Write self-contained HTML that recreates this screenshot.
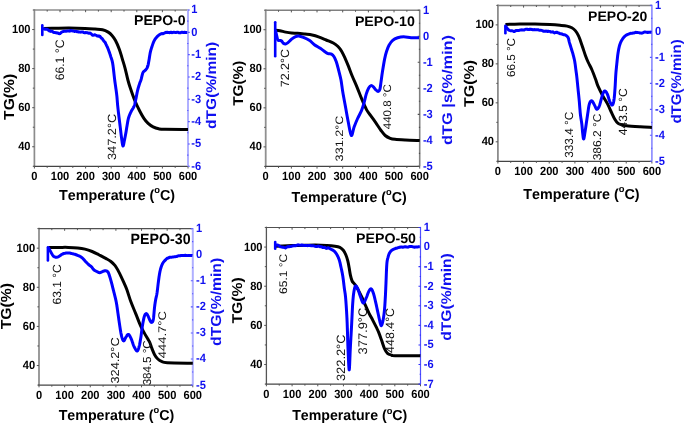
<!DOCTYPE html>
<html><head><meta charset="utf-8"><style>
html,body{margin:0;padding:0;background:#fff;}
svg{display:block;}
text{font-family:"Liberation Sans",sans-serif;font-kerning:none;text-rendering:geometricPrecision;}
.tl{font-size:11.9px;font-weight:bold;fill:#000;}
.rb{fill:#1010f0;}
.ti{font-weight:bold;fill:#000;}
.al{font-size:14.5px;font-weight:bold;fill:#000;}
.rb2{fill:#1010f0;}
.an{fill:#111;}
</style></head><body>
<svg width="685" height="424" viewBox="0 0 685 424" style="will-change:transform">
<rect width="685" height="424" fill="#fff"/>
<g><path d="M34.4,9.2V166.3" stroke="#8c8c8c" stroke-width="1.7" fill="none"/>
<path d="M34.4,10H188" stroke="#8c8c8c" stroke-width="1.6" fill="none"/>
<path d="M33.6,166.3H188" stroke="#444" stroke-width="1.2" fill="none"/>
<path d="M34.4,166.3h-1.6 M34.4,146.76h-2.2 M34.4,127.23h-1.6 M34.4,107.69h-2.2 M34.4,88.15h-1.6 M34.4,68.61h-2.2 M34.4,49.08h-1.6 M34.4,29.54h-2.2 M34.4,10h-1.6 M34.4,166.3v2.2 M47.2,166.3v1.6 M60,166.3v2.2 M72.8,166.3v1.6 M85.6,166.3v2.2 M98.4,166.3v1.6 M111.2,166.3v2.2 M124,166.3v1.6 M136.8,166.3v2.2 M149.6,166.3v1.6 M162.4,166.3v2.2 M175.2,166.3v1.6 M188,166.3v2.2 M47.2,10v1.6 M60,10v2.2 M72.8,10v1.6 M85.6,10v2.2 M98.4,10v1.6 M111.2,10v2.2 M124,10v1.6 M136.8,10v2.2 M149.6,10v1.6 M162.4,10v2.2 M175.2,10v1.6" stroke="#555" stroke-width="1" fill="none"/>
<path d="M188,9.4V166.3" stroke="#b0b0ff" stroke-width="2" fill="none"/>
<path d="M188,166.3h1.8 M188.4,155.14h-1.2 M188,143.97h1.8 M188.4,132.81h-1.2 M188,121.64h1.8 M188.4,110.48h-1.2 M188,99.31h1.8 M188.4,88.15h-1.2 M188,76.99h1.8 M188.4,65.82h-1.2 M188,54.66h1.8 M188.4,43.49h-1.2 M188,32.33h1.8 M188.4,21.16h-1.2 M188,10h1.8" stroke="#5858ff" stroke-width="1.1" fill="none"/>
<text transform="translate(30.50 150.26) translate(-12.34 0) scale(0.9325 1)" font-size="11.9" font-weight="bold" fill="#000">40</text>
<text transform="translate(30.50 111.19) translate(-12.34 0) scale(0.9325 1)" font-size="11.9" font-weight="bold" fill="#000">60</text>
<text transform="translate(30.50 72.11) translate(-12.34 0) scale(0.9325 1)" font-size="11.9" font-weight="bold" fill="#000">80</text>
<text transform="translate(30.50 33.04) translate(-18.51 0) scale(0.9325 1)" font-size="11.9" font-weight="bold" fill="#000">100</text>
<text transform="translate(34.40 179.80) translate(-3.09 0) scale(0.9325 1)" font-size="11.9" font-weight="bold" fill="#000">0</text>
<text transform="translate(60.00 179.80) translate(-9.26 0) scale(0.9325 1)" font-size="11.9" font-weight="bold" fill="#000">100</text>
<text transform="translate(85.60 179.80) translate(-9.26 0) scale(0.9325 1)" font-size="11.9" font-weight="bold" fill="#000">200</text>
<text transform="translate(111.20 179.80) translate(-9.26 0) scale(0.9325 1)" font-size="11.9" font-weight="bold" fill="#000">300</text>
<text transform="translate(136.80 179.80) translate(-9.26 0) scale(0.9325 1)" font-size="11.9" font-weight="bold" fill="#000">400</text>
<text transform="translate(162.40 179.80) translate(-9.26 0) scale(0.9325 1)" font-size="11.9" font-weight="bold" fill="#000">500</text>
<text transform="translate(188.00 179.80) translate(-9.26 0) scale(0.9325 1)" font-size="11.9" font-weight="bold" fill="#000">600</text>
<text transform="translate(191.20 169.70) translate(0.00 0) scale(0.9326 1)" font-size="11.9" font-weight="bold" fill="#1010f0">-6</text>
<text transform="translate(191.20 147.37) translate(0.00 0) scale(0.9326 1)" font-size="11.9" font-weight="bold" fill="#1010f0">-5</text>
<text transform="translate(191.20 125.04) translate(0.00 0) scale(0.9326 1)" font-size="11.9" font-weight="bold" fill="#1010f0">-4</text>
<text transform="translate(191.20 102.71) translate(0.00 0) scale(0.9326 1)" font-size="11.9" font-weight="bold" fill="#1010f0">-3</text>
<text transform="translate(191.20 80.39) translate(0.00 0) scale(0.9326 1)" font-size="11.9" font-weight="bold" fill="#1010f0">-2</text>
<text transform="translate(191.20 58.06) translate(0.00 0) scale(0.9326 1)" font-size="11.9" font-weight="bold" fill="#1010f0">-1</text>
<text transform="translate(191.20 35.73) translate(0.00 0) scale(0.9325 1)" font-size="11.9" font-weight="bold" fill="#1010f0">0</text>
<text transform="translate(191.20 13.40) translate(0.00 0) scale(0.9325 1)" font-size="11.9" font-weight="bold" fill="#1010f0">1</text>
<path d="M43.60,28.50 C45.50,28.47 50.77,28.37 55.00,28.30 C59.23,28.23 64.00,28.08 69.00,28.10 C74.00,28.12 80.67,28.25 85.00,28.40 C89.33,28.55 92.08,28.78 95.00,29.00 C97.92,29.22 100.30,29.18 102.50,29.70 C104.70,30.22 106.62,31.15 108.20,32.10 C109.78,33.05 110.78,34.00 112.00,35.40 C113.22,36.80 114.27,38.17 115.50,40.50 C116.73,42.83 118.27,46.33 119.40,49.40 C120.53,52.47 121.35,55.75 122.30,58.90 C123.25,62.05 124.17,64.78 125.10,68.30 C126.03,71.82 127.00,76.62 127.90,80.00 C128.80,83.38 129.37,85.22 130.50,88.60 C131.63,91.98 133.17,96.57 134.70,100.30 C136.23,104.03 138.17,107.98 139.70,111.00 C141.23,114.02 142.50,116.33 143.90,118.40 C145.30,120.47 146.57,121.98 148.10,123.40 C149.63,124.82 151.33,126.00 153.10,126.90 C154.87,127.80 156.72,128.40 158.70,128.80 C160.68,129.20 160.12,129.20 165.00,129.30 C169.88,129.40 184.17,129.38 188.00,129.40" stroke="#000" stroke-width="3" fill="none" stroke-linejoin="round" stroke-linecap="butt"/>
<path d="M42.3,25.2V35" stroke="#0000ff" stroke-width="2.6" fill="none" stroke-linecap="round"/>
<path d="M42.30,28.50 L42.82,28.61 L43.59,28.79 L44.50,29.02 L45.12,29.23 L45.81,29.28 L46.54,29.29 L47.28,29.28 L48.00,29.95 L48.70,30.17 L49.40,30.97 L50.10,31.15 L50.80,31.39 L51.50,31.21 L52.19,31.40 L52.86,31.81 L53.54,32.37 L54.24,32.62 L55.00,32.61 L55.69,32.69 L56.43,32.65 L57.20,33.05 L57.97,33.05 L58.71,33.59 L59.40,33.66 L60.12,33.62 L60.74,32.88 L61.36,32.36 L62.05,31.92 L62.90,31.66 L63.53,31.32 L64.22,31.31 L64.96,31.19 L65.73,31.23 L66.53,31.15 L67.35,30.92 L68.18,31.07 L69.00,31.00 L69.66,31.14 L70.34,30.77 L71.03,30.51 L71.74,30.83 L72.44,30.69 L73.16,31.12 L73.87,31.11 L74.59,31.50 L75.30,31.37 L76.00,31.37 L76.70,31.49 L77.40,31.75 L78.10,31.72 L78.80,31.96 L79.50,32.01 L80.20,32.13 L80.90,32.10 L81.60,31.93 L82.30,32.04 L83.00,32.10 L83.71,32.57 L84.43,32.66 L85.16,32.69 L85.90,32.53 L86.62,32.64 L87.34,32.64 L88.05,33.06 L88.73,33.14 L89.38,33.36 L90.00,33.11 L90.82,33.51 L91.58,34.24 L92.30,35.01 L92.98,35.27 L93.65,35.09 L94.32,34.86 L95.00,34.80 L95.70,35.09 L96.39,35.31 L97.08,36.00 L97.76,36.09 L98.43,36.23 L99.08,35.96 L99.70,36.11 L100.30,36.79 L100.88,37.61 L101.44,38.25 L101.99,38.49 L102.51,39.07 L103.02,39.78 L103.50,40.62 L103.96,41.14 L104.38,41.64 L104.79,41.91 L105.18,42.54 L105.56,43.29 L105.93,44.16 L106.30,44.91 L106.62,45.58 L106.94,46.20 L107.25,46.87 L107.56,47.52 L107.85,48.30 L108.14,49.05 L108.43,49.78 L108.70,50.50 L108.96,51.19 L109.21,51.86 L109.44,52.52 L109.67,53.19 L109.89,53.87 L110.12,54.57 L110.36,55.31 L110.60,56.10 L110.78,56.68 L110.97,57.23 L111.16,57.77 L111.35,58.31 L111.55,58.88 L111.74,59.48 L111.94,60.14 L112.13,60.86 L112.32,61.67 L112.51,62.58 L112.70,63.60 L112.79,64.14 L112.88,64.71 L112.97,65.31 L113.05,65.95 L113.14,66.61 L113.23,67.29 L113.32,67.99 L113.40,68.72 L113.49,69.46 L113.58,70.21 L113.66,70.97 L113.75,71.74 L113.84,72.52 L113.92,73.30 L114.01,74.08 L114.09,74.85 L114.18,75.63 L114.27,76.39 L114.35,77.14 L114.44,77.88 L114.53,78.61 L114.61,79.31 L114.70,80.00 L114.80,80.74 L114.89,81.47 L114.99,82.21 L115.10,82.94 L115.20,83.67 L115.30,84.40 L115.40,85.12 L115.51,85.84 L115.61,86.56 L115.71,87.27 L115.81,87.97 L115.91,88.67 L116.01,89.36 L116.11,90.04 L116.20,90.72 L116.29,91.39 L116.38,92.05 L116.47,92.70 L116.55,93.35 L116.63,93.98 L116.70,94.60 L116.79,95.40 L116.87,96.18 L116.95,96.94 L117.02,97.68 L117.08,98.41 L117.14,99.12 L117.20,99.82 L117.25,100.51 L117.30,101.20 L117.35,101.87 L117.41,102.55 L117.46,103.22 L117.51,103.88 L117.57,104.55 L117.63,105.22 L117.70,105.90 L117.78,106.67 L117.86,107.43 L117.94,108.17 L118.02,108.91 L118.11,109.64 L118.19,110.37 L118.27,111.10 L118.36,111.83 L118.45,112.56 L118.54,113.29 L118.63,114.03 L118.72,114.77 L118.81,115.53 L118.90,116.30 L118.98,116.98 L119.07,117.67 L119.15,118.36 L119.24,119.06 L119.32,119.76 L119.41,120.47 L119.50,121.18 L119.59,121.89 L119.68,122.60 L119.77,123.32 L119.86,124.03 L119.95,124.75 L120.03,125.46 L120.12,126.18 L120.21,126.89 L120.30,127.60 L120.39,128.32 L120.48,129.05 L120.56,129.79 L120.65,130.55 L120.74,131.30 L120.83,132.06 L120.92,132.82 L121.01,133.57 L121.09,134.31 L121.18,135.04 L121.27,135.76 L121.36,136.46 L121.44,137.13 L121.53,137.78 L121.62,138.41 L121.70,139.00 L121.83,139.93 L121.96,140.88 L122.09,141.82 L122.22,142.72 L122.35,143.56 L122.48,144.32 L122.61,144.96 L122.74,145.48 L122.87,145.83 L123.00,146.00 L123.17,145.91 L123.34,145.52 L123.52,144.89 L123.69,144.08 L123.87,143.16 L124.05,142.20 L124.22,141.26 L124.40,140.40 L124.54,139.76 L124.68,139.10 L124.82,138.42 L124.96,137.74 L125.10,137.03 L125.24,136.31 L125.38,135.58 L125.52,134.83 L125.66,134.07 L125.80,133.30 L125.92,132.64 L126.03,131.95 L126.15,131.24 L126.27,130.52 L126.38,129.79 L126.50,129.05 L126.62,128.31 L126.73,127.58 L126.85,126.86 L126.97,126.15 L127.08,125.46 L127.20,124.80 L127.33,124.03 L127.46,123.28 L127.58,122.54 L127.70,121.82 L127.83,121.11 L127.95,120.42 L128.09,119.73 L128.24,119.05 L128.41,118.37 L128.60,117.70 L128.84,116.96 L129.09,116.22 L129.37,115.49 L129.66,114.77 L129.96,114.07 L130.27,113.37 L130.59,112.70 L130.90,112.04 L131.20,111.40 L131.55,110.72 L131.91,110.08 L132.29,109.48 L132.66,108.89 L133.03,108.30 L133.38,107.70 L133.71,107.07 L134.00,106.40 L134.23,105.79 L134.43,105.19 L134.61,104.59 L134.77,103.97 L134.93,103.33 L135.08,102.66 L135.24,101.93 L135.41,101.15 L135.60,100.30 L135.73,99.70 L135.86,99.06 L136.00,98.38 L136.14,97.67 L136.28,96.93 L136.42,96.18 L136.57,95.41 L136.71,94.65 L136.86,93.88 L137.01,93.14 L137.16,92.40 L137.31,91.70 L137.45,91.03 L137.60,90.40 L137.81,89.56 L138.02,88.75 L138.24,87.96 L138.47,87.20 L138.69,86.47 L138.91,85.77 L139.12,85.10 L139.32,84.46 L139.52,83.86 L139.70,83.30 L140.02,82.38 L140.29,81.70 L140.54,81.09 L140.80,80.41 L141.10,79.50 L141.27,78.91 L141.44,78.23 L141.62,77.49 L141.80,76.70 L141.99,75.91 L142.18,75.12 L142.38,74.36 L142.58,73.65 L142.79,73.02 L143.00,72.50 L143.57,71.63 L144.18,71.15 L144.80,70.77 L145.40,70.20 L145.80,69.70 L146.20,69.18 L146.61,68.62 L147.00,68.00 L147.36,67.26 L147.70,66.40 L147.88,65.80 L148.06,65.12 L148.22,64.39 L148.38,63.62 L148.53,62.83 L148.67,62.01 L148.80,61.20 L148.94,60.40 L149.07,59.63 L149.20,58.90 L149.34,58.12 L149.46,57.35 L149.58,56.59 L149.69,55.84 L149.80,55.11 L149.91,54.39 L150.03,53.68 L150.16,52.98 L150.30,52.30 L150.47,51.56 L150.65,50.85 L150.84,50.17 L151.04,49.49 L151.24,48.83 L151.45,48.16 L151.67,47.49 L151.90,46.80 L152.13,46.09 L152.37,45.35 L152.62,44.61 L152.87,43.87 L153.13,43.14 L153.41,42.42 L153.70,41.74 L154.00,41.10 L154.36,40.41 L154.73,39.76 L155.12,39.14 L155.52,38.54 L155.95,37.98 L156.41,37.43 L156.90,36.90 L157.42,36.39 L157.96,35.89 L158.53,35.41 L159.13,34.96 L159.75,34.54 L160.41,34.19 L161.10,33.80 L161.72,33.73 L162.35,33.47 L163.00,33.84 L163.68,33.42 L164.39,33.19 L165.14,32.58 L165.94,32.33 L166.80,32.51 L167.40,32.29 L168.01,32.43 L168.65,32.40 L169.30,32.72 L169.97,32.38 L170.66,32.36 L171.37,32.34 L172.10,32.74 L172.86,32.41 L173.65,32.32 L174.46,32.35 L175.30,32.54 L175.93,32.55 L176.62,32.32 L177.36,32.29 L178.14,32.28 L178.94,32.76 L179.76,32.79 L180.59,32.72 L181.42,32.20 L182.24,32.30 L183.04,32.43 L183.81,32.53 L184.54,32.28 L185.23,32.52 L185.86,32.57 L186.42,32.61 L186.90,32.59 L187.30,32.60" stroke="#0000ff" stroke-width="3" fill="none" stroke-linejoin="round" stroke-linecap="butt"/>
<text transform="translate(134.00 24.60) translate(0.00 0) scale(0.9977 1)" font-size="14.1" font-weight="bold" fill="#000">PEPO-0</text>
<text transform="translate(14.20 119.90) rotate(-90) translate(0.00 0) scale(1.0776 1)" font-size="14.5" font-weight="bold" fill="#000">TG(%)</text>
<text transform="translate(216.40 128.90) rotate(-90) translate(0.00 0) scale(1.1089 1)" font-size="14" font-weight="bold" fill="#1010f0">dTG(%/min)</text>
<g transform="translate(59.20 199.70) scale(0.9854 1) translate(-0.16 0)"><text transform="translate(0.00 0.00) translate(0.00 0) scale(1.0000 1)" font-size="14.5" font-weight="bold" fill="#000">Temperature (</text><text transform="translate(96.69 -6.30) translate(0.00 0) scale(1.0000 1)" font-size="9.5" font-weight="bold" fill="#000">o</text><text transform="translate(102.50 0.00) translate(0.00 0) scale(1.0000 1)" font-size="14.5" font-weight="bold" fill="#000">C)</text></g>
<text transform="translate(63.50 79.70) rotate(-90) translate(-0.62 0) scale(0.9893 1)" font-size="12.32" fill="#111">66.1 °C</text>
<text transform="translate(116.00 159.60) rotate(-90) translate(-0.49 0) scale(1.0752 1)" font-size="11.9" fill="#111">347.2°C</text></g>
<g><path d="M265.7,9.4V166.4" stroke="#909090" stroke-width="1.8" fill="none"/>
<path d="M265.7,10.2H419.7" stroke="#808080" stroke-width="1.5" fill="none"/>
<path d="M264.9,166.4H419.7" stroke="#444" stroke-width="1.2" fill="none"/>
<path d="M265.7,166.4h-1.6 M265.7,146.88h-2.2 M265.7,127.35h-1.6 M265.7,107.83h-2.2 M265.7,88.3h-1.6 M265.7,68.77h-2.2 M265.7,49.25h-1.6 M265.7,29.72h-2.2 M265.7,10.2h-1.6 M265.7,166.4v2.2 M278.53,166.4v1.6 M291.37,166.4v2.2 M304.2,166.4v1.6 M317.03,166.4v2.2 M329.87,166.4v1.6 M342.7,166.4v2.2 M355.53,166.4v1.6 M368.37,166.4v2.2 M381.2,166.4v1.6 M394.03,166.4v2.2 M406.87,166.4v1.6 M419.7,166.4v2.2 M278.53,10.2v1.6 M291.37,10.2v2.2 M304.2,10.2v1.6 M317.03,10.2v2.2 M329.87,10.2v1.6 M342.7,10.2v2.2 M355.53,10.2v1.6 M368.37,10.2v2.2 M381.2,10.2v1.6 M394.03,10.2v2.2 M406.87,10.2v1.6" stroke="#555" stroke-width="1" fill="none"/>
<path d="M419.7,9.6V166.4" stroke="#808080" stroke-width="1.6" fill="none"/>
<path d="M419.7,166.4h-2 M420.1,153.38h-1.2 M419.7,140.37h-2 M420.1,127.35h-1.2 M419.7,114.33h-2 M420.1,101.32h-1.2 M419.7,88.3h-2 M420.1,75.28h-1.2 M419.7,62.27h-2 M420.1,49.25h-1.2 M419.7,36.23h-2 M420.1,23.22h-1.2 M419.7,10.2h-2" stroke="#505050" stroke-width="1.1" fill="none"/>
<text transform="translate(261.80 150.38) translate(-12.34 0) scale(0.9325 1)" font-size="11.9" font-weight="bold" fill="#000">40</text>
<text transform="translate(261.80 111.33) translate(-12.34 0) scale(0.9325 1)" font-size="11.9" font-weight="bold" fill="#000">60</text>
<text transform="translate(261.80 72.27) translate(-12.34 0) scale(0.9325 1)" font-size="11.9" font-weight="bold" fill="#000">80</text>
<text transform="translate(261.80 33.22) translate(-18.51 0) scale(0.9325 1)" font-size="11.9" font-weight="bold" fill="#000">100</text>
<text transform="translate(265.70 179.90) translate(-3.09 0) scale(0.9325 1)" font-size="11.9" font-weight="bold" fill="#000">0</text>
<text transform="translate(291.37 179.90) translate(-9.26 0) scale(0.9325 1)" font-size="11.9" font-weight="bold" fill="#000">100</text>
<text transform="translate(317.03 179.90) translate(-9.26 0) scale(0.9325 1)" font-size="11.9" font-weight="bold" fill="#000">200</text>
<text transform="translate(342.70 179.90) translate(-9.26 0) scale(0.9325 1)" font-size="11.9" font-weight="bold" fill="#000">300</text>
<text transform="translate(368.37 179.90) translate(-9.26 0) scale(0.9325 1)" font-size="11.9" font-weight="bold" fill="#000">400</text>
<text transform="translate(394.03 179.90) translate(-9.26 0) scale(0.9325 1)" font-size="11.9" font-weight="bold" fill="#000">500</text>
<text transform="translate(419.70 179.90) translate(-9.26 0) scale(0.9325 1)" font-size="11.9" font-weight="bold" fill="#000">600</text>
<text transform="translate(422.90 169.80) translate(0.00 0) scale(0.9326 1)" font-size="11.9" font-weight="bold" fill="#1010f0">-5</text>
<text transform="translate(422.90 143.77) translate(0.00 0) scale(0.9326 1)" font-size="11.9" font-weight="bold" fill="#1010f0">-4</text>
<text transform="translate(422.90 117.73) translate(0.00 0) scale(0.9326 1)" font-size="11.9" font-weight="bold" fill="#1010f0">-3</text>
<text transform="translate(422.90 91.70) translate(0.00 0) scale(0.9326 1)" font-size="11.9" font-weight="bold" fill="#1010f0">-2</text>
<text transform="translate(422.90 65.67) translate(0.00 0) scale(0.9326 1)" font-size="11.9" font-weight="bold" fill="#1010f0">-1</text>
<text transform="translate(422.90 39.63) translate(0.00 0) scale(0.9325 1)" font-size="11.9" font-weight="bold" fill="#1010f0">0</text>
<text transform="translate(422.90 13.60) translate(0.00 0) scale(0.9325 1)" font-size="11.9" font-weight="bold" fill="#1010f0">1</text>
<path d="M274.80,30.10 C275.63,30.20 277.98,30.37 279.80,30.70 C281.62,31.03 283.73,31.72 285.70,32.10 C287.67,32.48 289.63,32.80 291.60,33.00 C293.57,33.20 295.27,33.12 297.50,33.30 C299.73,33.48 302.57,33.82 305.00,34.10 C307.43,34.38 309.73,34.50 312.10,35.00 C314.47,35.50 316.85,36.27 319.20,37.10 C321.55,37.93 323.85,39.02 326.20,40.00 C328.55,40.98 331.33,41.92 333.30,43.00 C335.27,44.08 336.62,45.13 338.00,46.50 C339.38,47.87 340.42,49.23 341.60,51.20 C342.78,53.17 343.93,55.73 345.10,58.30 C346.27,60.87 347.42,63.65 348.60,66.60 C349.78,69.55 350.82,72.63 352.20,76.00 C353.58,79.37 355.33,83.03 356.90,86.80 C358.47,90.57 360.00,94.80 361.60,98.60 C363.20,102.40 364.80,106.52 366.50,109.60 C368.20,112.68 370.10,114.68 371.80,117.10 C373.50,119.52 375.17,121.87 376.70,124.10 C378.23,126.33 379.58,128.60 381.00,130.50 C382.42,132.40 383.67,134.20 385.20,135.50 C386.73,136.80 388.57,137.67 390.20,138.30 C391.83,138.93 392.45,139.02 395.00,139.30 C397.55,139.58 401.38,139.78 405.50,140.00 C409.62,140.22 417.33,140.50 419.70,140.60" stroke="#000" stroke-width="3" fill="none" stroke-linejoin="round" stroke-linecap="butt"/>
<path d="M275.2,22.3V56.2" stroke="#0000ff" stroke-width="2.6" fill="none" stroke-linecap="round"/>
<path d="M275.50,30.00 C275.72,31.03 276.38,34.50 276.80,36.20 C277.22,37.90 277.50,39.50 278.00,40.20 C278.50,40.90 279.20,40.27 279.80,40.40 C280.40,40.53 281.02,40.53 281.60,41.00 C282.18,41.47 282.62,42.72 283.30,43.20 C283.98,43.68 284.92,43.98 285.70,43.90 C286.48,43.82 287.02,43.48 288.00,42.70 C288.98,41.92 290.42,40.18 291.60,39.20 C292.78,38.22 293.92,37.33 295.10,36.80 C296.28,36.27 297.32,35.90 298.70,36.00 C300.08,36.10 301.57,36.63 303.40,37.40 C305.23,38.17 307.87,39.38 309.70,40.60 C311.53,41.82 312.63,43.42 314.40,44.70 C316.17,45.98 318.53,47.12 320.30,48.30 C322.07,49.48 323.72,50.92 325.00,51.80 C326.28,52.68 326.92,53.20 328.00,53.60 C329.08,54.00 330.52,53.72 331.50,54.20 C332.48,54.68 333.10,55.23 333.90,56.50 C334.70,57.77 335.52,59.53 336.30,61.80 C337.08,64.07 337.82,67.07 338.60,70.10 C339.38,73.13 340.32,76.43 341.00,80.00 C341.68,83.57 341.92,86.83 342.70,91.50 C343.48,96.17 344.75,102.80 345.70,108.00 C346.65,113.20 347.47,118.12 348.40,122.70 C349.33,127.28 350.35,134.78 351.30,135.50 C352.25,136.22 353.05,129.83 354.10,127.00 C355.15,124.17 356.35,121.27 357.60,118.50 C358.85,115.73 360.55,112.93 361.60,110.40 C362.65,107.87 363.12,106.05 363.90,103.30 C364.68,100.55 365.50,96.45 366.30,93.90 C367.10,91.35 367.92,89.38 368.70,88.00 C369.48,86.62 370.22,85.80 371.00,85.60 C371.78,85.40 372.62,86.12 373.40,86.80 C374.18,87.48 374.92,88.92 375.70,89.70 C376.48,90.48 377.40,91.58 378.10,91.50 C378.80,91.42 379.42,90.77 379.90,89.20 C380.38,87.63 380.58,84.97 381.00,82.10 C381.42,79.23 381.78,75.92 382.40,72.00 C383.02,68.08 384.00,62.05 384.70,58.60 C385.40,55.15 385.88,53.53 386.60,51.30 C387.32,49.07 387.98,47.03 389.00,45.20 C390.02,43.37 391.27,41.53 392.70,40.30 C394.13,39.07 395.77,38.38 397.60,37.80 C399.43,37.22 401.45,36.80 403.70,36.80 C405.95,36.80 408.55,37.63 411.10,37.80 C413.65,37.97 417.68,37.80 419.00,37.80" stroke="#0000ff" stroke-width="3" fill="none" stroke-linejoin="round" stroke-linecap="butt"/>
<text transform="translate(354.90 25.90) translate(0.00 0) scale(1.0293 1)" font-size="13.8" font-weight="bold" fill="#000">PEPO-10</text>
<text transform="translate(243.10 105.80) rotate(-90) translate(0.00 0) scale(1.0813 1)" font-size="14.2" font-weight="bold" fill="#000">TG(%)</text>
<text transform="translate(451.90 144.90) rotate(-90) translate(0.00 0) scale(1.1674 1)" font-size="14" font-weight="bold" fill="#1010f0">dTG |s(%/min)</text>
<g transform="translate(291.60 201.50) scale(0.9777 1) translate(-0.16 0)"><text transform="translate(0.00 0.00) translate(0.00 0) scale(1.0000 1)" font-size="14.5" font-weight="bold" fill="#000">Temperature (</text><text transform="translate(96.69 -6.30) translate(0.00 0) scale(1.0000 1)" font-size="9.5" font-weight="bold" fill="#000">o</text><text transform="translate(102.50 0.00) translate(0.00 0) scale(1.0000 1)" font-size="14.5" font-weight="bold" fill="#000">C)</text></g>
<text transform="translate(289.00 86.60) rotate(-90) translate(-0.64 0) scale(1.0465 1)" font-size="11.9" fill="#111">72.2°C</text>
<text transform="translate(343.40 160.90) rotate(-90) translate(-0.48 0) scale(1.1712 1)" font-size="10.78" fill="#111">331.2°C</text>
<text transform="translate(390.70 128.90) rotate(-90) translate(-0.26 0) scale(1.0404 1)" font-size="11.06" fill="#111">440.8 °C</text></g>
<g><path d="M497.9,4.6V161.3" stroke="#8c8c8c" stroke-width="1.8" fill="none"/>
<path d="M497.9,5.4H651.9" stroke="#808080" stroke-width="1.5" fill="none"/>
<path d="M497.1,161.3H651.9" stroke="#444" stroke-width="1.2" fill="none"/>
<path d="M497.9,161.3h-1.6 M497.9,141.81h-2.2 M497.9,122.33h-1.6 M497.9,102.84h-2.2 M497.9,83.35h-1.6 M497.9,63.86h-2.2 M497.9,44.38h-1.6 M497.9,24.89h-2.2 M497.9,5.4h-1.6 M497.9,161.3v2.2 M510.73,161.3v1.6 M523.57,161.3v2.2 M536.4,161.3v1.6 M549.23,161.3v2.2 M562.07,161.3v1.6 M574.9,161.3v2.2 M587.73,161.3v1.6 M600.57,161.3v2.2 M613.4,161.3v1.6 M626.23,161.3v2.2 M639.07,161.3v1.6 M651.9,161.3v2.2 M510.73,5.4v1.6 M523.57,5.4v2.2 M536.4,5.4v1.6 M549.23,5.4v2.2 M562.07,5.4v1.6 M574.9,5.4v2.2 M587.73,5.4v1.6 M600.57,5.4v2.2 M613.4,5.4v1.6 M626.23,5.4v2.2 M639.07,5.4v1.6" stroke="#555" stroke-width="1" fill="none"/>
<path d="M651.9,4.8V161.3" stroke="#8888ff" stroke-width="1.6" fill="none"/>
<path d="M651.9,161.3h-2 M652.3,148.31h-1.2 M651.9,135.32h-2 M652.3,122.33h-1.2 M651.9,109.33h-2 M652.3,96.34h-1.2 M651.9,83.35h-2 M652.3,70.36h-1.2 M651.9,57.37h-2 M652.3,44.38h-1.2 M651.9,31.38h-2 M652.3,18.39h-1.2 M651.9,5.4h-2" stroke="#5858ff" stroke-width="1.1" fill="none"/>
<text transform="translate(494.00 145.31) translate(-12.34 0) scale(0.9325 1)" font-size="11.9" font-weight="bold" fill="#000">40</text>
<text transform="translate(494.00 106.34) translate(-12.34 0) scale(0.9325 1)" font-size="11.9" font-weight="bold" fill="#000">60</text>
<text transform="translate(494.00 67.36) translate(-12.34 0) scale(0.9325 1)" font-size="11.9" font-weight="bold" fill="#000">80</text>
<text transform="translate(494.00 28.39) translate(-18.51 0) scale(0.9325 1)" font-size="11.9" font-weight="bold" fill="#000">100</text>
<text transform="translate(497.90 174.80) translate(-3.09 0) scale(0.9325 1)" font-size="11.9" font-weight="bold" fill="#000">0</text>
<text transform="translate(523.57 174.80) translate(-9.26 0) scale(0.9325 1)" font-size="11.9" font-weight="bold" fill="#000">100</text>
<text transform="translate(549.23 174.80) translate(-9.26 0) scale(0.9325 1)" font-size="11.9" font-weight="bold" fill="#000">200</text>
<text transform="translate(574.90 174.80) translate(-9.26 0) scale(0.9325 1)" font-size="11.9" font-weight="bold" fill="#000">300</text>
<text transform="translate(600.57 174.80) translate(-9.26 0) scale(0.9325 1)" font-size="11.9" font-weight="bold" fill="#000">400</text>
<text transform="translate(626.23 174.80) translate(-9.26 0) scale(0.9325 1)" font-size="11.9" font-weight="bold" fill="#000">500</text>
<text transform="translate(651.90 174.80) translate(-9.26 0) scale(0.9325 1)" font-size="11.9" font-weight="bold" fill="#000">600</text>
<text transform="translate(655.10 164.70) translate(0.00 0) scale(0.9326 1)" font-size="11.9" font-weight="bold" fill="#1010f0">-5</text>
<text transform="translate(655.10 138.72) translate(0.00 0) scale(0.9326 1)" font-size="11.9" font-weight="bold" fill="#1010f0">-4</text>
<text transform="translate(655.10 112.73) translate(0.00 0) scale(0.9326 1)" font-size="11.9" font-weight="bold" fill="#1010f0">-3</text>
<text transform="translate(655.10 86.75) translate(0.00 0) scale(0.9326 1)" font-size="11.9" font-weight="bold" fill="#1010f0">-2</text>
<text transform="translate(655.10 60.77) translate(0.00 0) scale(0.9326 1)" font-size="11.9" font-weight="bold" fill="#1010f0">-1</text>
<text transform="translate(655.10 34.78) translate(0.00 0) scale(0.9325 1)" font-size="11.9" font-weight="bold" fill="#1010f0">0</text>
<text transform="translate(655.10 8.80) translate(0.00 0) scale(0.9325 1)" font-size="11.9" font-weight="bold" fill="#1010f0">1</text>
<path d="M505.40,24.40 C507.83,24.35 515.07,24.17 520.00,24.10 C524.93,24.03 530.00,23.92 535.00,24.00 C540.00,24.08 545.83,24.38 550.00,24.60 C554.17,24.82 557.15,25.05 560.00,25.30 C562.85,25.55 565.13,25.70 567.10,26.10 C569.07,26.50 570.43,26.95 571.80,27.70 C573.17,28.45 574.22,29.33 575.30,30.60 C576.38,31.87 577.42,33.53 578.30,35.30 C579.18,37.07 579.82,39.03 580.60,41.20 C581.38,43.37 582.20,45.93 583.00,48.30 C583.80,50.67 584.52,53.03 585.40,55.40 C586.28,57.77 587.23,60.15 588.30,62.50 C589.37,64.85 590.60,66.75 591.80,69.50 C593.00,72.25 594.47,76.22 595.50,79.00 C596.53,81.78 596.80,83.42 598.00,86.20 C599.20,88.98 601.12,92.75 602.70,95.70 C604.28,98.65 606.03,101.10 607.50,103.90 C608.97,106.70 610.28,109.95 611.50,112.50 C612.72,115.05 613.70,117.38 614.80,119.20 C615.90,121.02 616.92,122.47 618.10,123.40 C619.28,124.33 620.48,124.40 621.90,124.80 C623.32,125.20 623.55,125.47 626.60,125.80 C629.65,126.13 635.98,126.53 640.20,126.80 C644.42,127.07 649.95,127.30 651.90,127.40" stroke="#000" stroke-width="3" fill="none" stroke-linejoin="round" stroke-linecap="butt"/>
<path d="M505.4,25.8V33.2" stroke="#0000ff" stroke-width="2.6" fill="none" stroke-linecap="round"/>
<path d="M505.60,26.00 L505.88,26.41 L506.27,27.00 L506.73,27.68 L507.22,28.37 L507.73,29.01 L508.20,29.58 L508.86,30.19 L509.51,30.44 L510.21,30.66 L511.00,30.72 L511.71,30.63 L512.47,30.91 L513.27,31.13 L514.12,31.57 L515.00,31.20 L515.64,30.78 L516.27,30.43 L516.92,30.43 L517.59,30.52 L518.32,30.43 L519.12,30.38 L520.00,30.07 L520.60,30.04 L521.22,29.93 L521.86,29.84 L522.52,29.96 L523.21,29.90 L523.92,30.10 L524.67,29.69 L525.45,29.44 L526.26,29.17 L527.11,29.22 L528.00,29.43 L528.60,29.53 L529.24,29.49 L529.90,29.28 L530.59,29.20 L531.30,29.49 L532.02,29.56 L532.76,29.72 L533.50,29.66 L534.25,29.61 L535.00,29.65 L535.75,29.85 L536.50,29.84 L537.23,29.85 L537.95,29.71 L538.66,29.97 L539.34,30.16 L540.00,30.24 L540.78,30.24 L541.53,30.39 L542.28,30.60 L543.00,31.08 L543.72,31.28 L544.43,31.35 L545.12,31.35 L545.82,31.06 L546.51,31.22 L547.20,31.24 L547.89,31.48 L548.59,31.32 L549.29,31.38 L550.00,31.49 L550.73,31.98 L551.47,31.93 L552.23,31.90 L553.00,31.85 L553.78,32.48 L554.55,32.89 L555.31,32.67 L556.06,32.19 L556.80,32.26 L557.51,32.54 L558.19,32.86 L558.83,33.05 L559.44,33.44 L560.00,33.74 L560.99,33.83 L561.85,33.93 L562.60,34.33 L563.26,34.55 L563.86,34.69 L564.43,34.77 L565.00,34.87 L565.75,35.30 L566.42,35.71 L567.01,36.17 L567.53,36.72 L568.00,37.40 L568.28,37.98 L568.50,38.62 L568.69,39.32 L568.86,40.06 L569.02,40.83 L569.19,41.62 L569.40,42.40 L569.61,43.09 L569.82,43.81 L570.05,44.55 L570.27,45.29 L570.51,46.05 L570.74,46.80 L570.97,47.56 L571.20,48.30 L571.43,49.03 L571.65,49.75 L571.88,50.46 L572.11,51.18 L572.33,51.90 L572.56,52.64 L572.78,53.41 L573.00,54.20 L573.18,54.85 L573.35,55.52 L573.53,56.19 L573.71,56.88 L573.89,57.58 L574.06,58.29 L574.23,59.01 L574.39,59.76 L574.55,60.52 L574.70,61.30 L574.82,61.98 L574.93,62.68 L575.04,63.41 L575.15,64.15 L575.25,64.91 L575.35,65.67 L575.45,66.43 L575.54,67.18 L575.63,67.92 L575.72,68.64 L575.81,69.34 L575.90,70.00 L576.01,70.81 L576.11,71.54 L576.21,72.22 L576.30,72.88 L576.40,73.54 L576.49,74.23 L576.59,74.99 L576.69,75.84 L576.80,76.80 L576.87,77.40 L576.94,78.04 L577.01,78.70 L577.08,79.40 L577.15,80.12 L577.23,80.86 L577.30,81.62 L577.38,82.39 L577.46,83.17 L577.54,83.96 L577.61,84.74 L577.69,85.53 L577.77,86.32 L577.85,87.09 L577.92,87.85 L578.00,88.60 L578.08,89.33 L578.15,90.06 L578.22,90.78 L578.30,91.50 L578.38,92.21 L578.45,92.93 L578.52,93.64 L578.60,94.36 L578.67,95.09 L578.75,95.81 L578.83,96.55 L578.90,97.30 L578.98,98.05 L579.05,98.82 L579.13,99.60 L579.20,100.40 L579.26,101.06 L579.32,101.73 L579.38,102.42 L579.44,103.13 L579.50,103.85 L579.55,104.58 L579.61,105.32 L579.67,106.06 L579.73,106.80 L579.79,107.54 L579.85,108.28 L579.91,109.02 L579.97,109.75 L580.03,110.46 L580.09,111.16 L580.15,111.85 L580.21,112.52 L580.27,113.17 L580.34,113.80 L580.40,114.40 L580.50,115.28 L580.61,116.11 L580.72,116.90 L580.83,117.66 L580.95,118.39 L581.06,119.09 L581.18,119.78 L581.29,120.46 L581.40,121.13 L581.51,121.81 L581.61,122.49 L581.71,123.18 L581.80,123.90 L581.89,124.64 L581.96,125.39 L582.04,126.15 L582.11,126.92 L582.18,127.69 L582.24,128.46 L582.31,129.21 L582.37,129.96 L582.43,130.68 L582.50,131.39 L582.56,132.06 L582.63,132.70 L582.70,133.30 L582.82,134.28 L582.93,135.30 L583.05,136.29 L583.17,137.21 L583.29,138.00 L583.42,138.60 L583.56,138.95 L583.70,139.00 L583.81,138.82 L583.93,138.45 L584.05,137.94 L584.18,137.29 L584.31,136.55 L584.44,135.73 L584.57,134.86 L584.71,133.96 L584.84,133.07 L584.97,132.21 L585.10,131.40 L585.21,130.74 L585.32,130.05 L585.42,129.36 L585.53,128.64 L585.64,127.92 L585.75,127.19 L585.85,126.45 L585.96,125.70 L586.07,124.96 L586.18,124.21 L586.28,123.47 L586.39,122.73 L586.50,122.00 L586.61,121.27 L586.72,120.52 L586.83,119.76 L586.94,119.00 L587.05,118.24 L587.16,117.48 L587.27,116.72 L587.38,115.98 L587.49,115.24 L587.60,114.52 L587.70,113.82 L587.80,113.15 L587.90,112.50 L588.02,111.68 L588.13,110.89 L588.24,110.12 L588.35,109.37 L588.45,108.65 L588.55,107.96 L588.66,107.29 L588.77,106.66 L588.88,106.06 L589.00,105.50 L589.26,104.47 L589.52,103.56 L589.80,102.77 L590.10,102.12 L590.40,101.60 L591.19,100.80 L592.10,101.00 L592.46,101.41 L592.85,102.02 L593.26,102.76 L593.68,103.56 L594.10,104.36 L594.50,105.10 L594.89,105.86 L595.27,106.73 L595.65,107.59 L596.03,108.35 L596.41,108.92 L596.80,109.20 L597.27,109.15 L597.75,108.80 L598.24,108.18 L598.72,107.34 L599.20,106.30 L599.40,105.79 L599.61,105.19 L599.82,104.53 L600.03,103.82 L600.24,103.07 L600.44,102.30 L600.65,101.52 L600.85,100.74 L601.05,99.99 L601.24,99.27 L601.42,98.60 L601.60,98.00 L601.88,97.05 L602.13,96.17 L602.37,95.33 L602.60,94.57 L602.83,93.87 L603.06,93.25 L603.30,92.70 L603.87,91.64 L604.45,90.97 L605.10,90.90 L605.47,91.15 L605.86,91.57 L606.27,92.14 L606.69,92.84 L607.10,93.63 L607.50,94.50 L607.73,95.08 L607.96,95.75 L608.19,96.49 L608.42,97.26 L608.65,98.06 L608.88,98.85 L609.11,99.62 L609.34,100.35 L609.57,101.02 L609.80,101.60 L610.20,102.49 L610.62,103.34 L611.04,104.09 L611.45,104.67 L611.84,105.03 L612.20,105.10 L612.48,104.92 L612.75,104.56 L613.01,104.03 L613.25,103.34 L613.48,102.50 L613.69,101.52 L613.90,100.40 L613.99,99.86 L614.07,99.28 L614.15,98.66 L614.22,98.00 L614.30,97.31 L614.37,96.60 L614.44,95.85 L614.51,95.09 L614.57,94.30 L614.64,93.51 L614.70,92.70 L614.76,91.88 L614.82,91.06 L614.88,90.23 L614.94,89.41 L615.00,88.60 L615.05,87.94 L615.09,87.27 L615.13,86.58 L615.18,85.87 L615.22,85.15 L615.26,84.43 L615.29,83.70 L615.33,82.96 L615.37,82.22 L615.41,81.47 L615.44,80.73 L615.48,80.00 L615.52,79.27 L615.55,78.55 L615.59,77.83 L615.63,77.13 L615.67,76.45 L615.71,75.78 L615.76,75.13 L615.80,74.50 L615.86,73.69 L615.92,72.91 L615.98,72.16 L616.05,71.42 L616.11,70.71 L616.18,70.01 L616.24,69.32 L616.31,68.64 L616.38,67.97 L616.44,67.30 L616.51,66.64 L616.58,65.96 L616.66,65.29 L616.73,64.60 L616.80,63.90 L616.87,63.19 L616.95,62.47 L617.02,61.74 L617.09,61.01 L617.17,60.28 L617.24,59.55 L617.32,58.82 L617.40,58.09 L617.47,57.37 L617.56,56.66 L617.64,55.96 L617.72,55.27 L617.81,54.60 L617.91,53.94 L618.00,53.30 L618.12,52.52 L618.25,51.75 L618.37,50.99 L618.50,50.25 L618.64,49.53 L618.77,48.82 L618.92,48.13 L619.06,47.46 L619.21,46.81 L619.37,46.18 L619.53,45.58 L619.70,45.00 L619.96,44.19 L620.23,43.44 L620.50,42.74 L620.79,42.09 L621.09,41.47 L621.41,40.87 L621.74,40.28 L622.10,39.70 L622.53,39.03 L622.97,38.38 L623.43,37.75 L623.92,37.15 L624.44,36.59 L625.00,36.07 L625.60,35.60 L626.15,35.23 L626.70,34.90 L627.27,34.61 L627.88,34.34 L628.53,34.12 L629.24,33.89 L630.02,33.39 L630.90,33.32 L631.49,33.38 L632.11,33.27 L632.77,33.07 L633.46,32.95 L634.18,32.90 L634.91,32.58 L635.67,32.27 L636.44,32.39 L637.22,32.41 L638.01,32.53 L638.81,32.62 L639.61,32.88 L640.40,32.94 L641.12,33.09 L641.89,33.13 L642.70,32.79 L643.53,32.46 L644.39,32.09 L645.26,32.10 L646.12,32.13 L646.96,32.26 L647.78,32.47 L648.56,32.26 L649.29,32.17 L649.96,32.20 L650.56,32.30 L651.08,32.31 L651.50,32.30" stroke="#0000ff" stroke-width="3" fill="none" stroke-linejoin="round" stroke-linecap="butt"/>
<text transform="translate(588.10 21.10) translate(0.00 0) scale(1.0247 1)" font-size="13.7" font-weight="bold" fill="#000">PEPO-20</text>
<text transform="translate(474.00 107.00) rotate(-90) translate(0.00 0) scale(1.1291 1)" font-size="14.2" font-weight="bold" fill="#000">TG(%)</text>
<text transform="translate(681.30 123.60) rotate(-90) translate(0.00 0) scale(1.0733 1)" font-size="14" font-weight="bold" fill="#1010f0">dTG(%/min)</text>
<g transform="translate(523.50 198.70) scale(0.9871 1) translate(-0.16 0)"><text transform="translate(0.00 0.00) translate(0.00 0) scale(1.0000 1)" font-size="14.5" font-weight="bold" fill="#000">Temperature (</text><text transform="translate(96.69 -6.30) translate(0.00 0) scale(1.0000 1)" font-size="9.5" font-weight="bold" fill="#000">o</text><text transform="translate(102.50 0.00) translate(0.00 0) scale(1.0000 1)" font-size="14.5" font-weight="bold" fill="#000">C)</text></g>
<text transform="translate(515.10 76.30) rotate(-90) translate(-0.59 0) scale(1.0013 1)" font-size="11.62" fill="#111">66.5 °C</text>
<text transform="translate(572.90 157.40) rotate(-90) translate(-0.45 0) scale(1.0068 1)" font-size="11.76" fill="#111">333.4 °C</text>
<text transform="translate(601.40 159.90) rotate(-90) translate(-0.46 0) scale(1.0579 1)" font-size="11.34" fill="#111">386.2 °C</text>
<text transform="translate(626.60 134.90) rotate(-90) translate(-0.28 0) scale(1.0085 1)" font-size="11.9" fill="#111">443.5 °C</text></g>
<g><path d="M39,227.8V385.1" stroke="#909090" stroke-width="1.8" fill="none"/>
<path d="M39,228.6H192.8" stroke="#505050" stroke-width="1.2" fill="none"/>
<path d="M38.2,385.1H192.8" stroke="#444" stroke-width="1.2" fill="none"/>
<path d="M39,385.1h-1.6 M39,365.54h-2.2 M39,345.98h-1.6 M39,326.41h-2.2 M39,306.85h-1.6 M39,287.29h-2.2 M39,267.73h-1.6 M39,248.16h-2.2 M39,228.6h-1.6 M39,385.1v2.2 M51.82,385.1v1.6 M64.63,385.1v2.2 M77.45,385.1v1.6 M90.27,385.1v2.2 M103.08,385.1v1.6 M115.9,385.1v2.2 M128.72,385.1v1.6 M141.53,385.1v2.2 M154.35,385.1v1.6 M167.17,385.1v2.2 M179.98,385.1v1.6 M192.8,385.1v2.2 M51.82,228.6v1.6 M64.63,228.6v2.2 M77.45,228.6v1.6 M90.27,228.6v2.2 M103.08,228.6v1.6 M115.9,228.6v2.2 M128.72,228.6v1.6 M141.53,228.6v2.2 M154.35,228.6v1.6 M167.17,228.6v2.2 M179.98,228.6v1.6" stroke="#555" stroke-width="1" fill="none"/>
<path d="M192.8,228V385.1" stroke="#b0b0ff" stroke-width="2" fill="none"/>
<path d="M192.8,385.1h-2 M193.2,372.06h-1.2 M192.8,359.02h-2 M193.2,345.98h-1.2 M192.8,332.93h-2 M193.2,319.89h-1.2 M192.8,306.85h-2 M193.2,293.81h-1.2 M192.8,280.77h-2 M193.2,267.73h-1.2 M192.8,254.68h-2 M193.2,241.64h-1.2 M192.8,228.6h-2" stroke="#5858ff" stroke-width="1.1" fill="none"/>
<text transform="translate(35.10 369.04) translate(-12.34 0) scale(0.9325 1)" font-size="11.9" font-weight="bold" fill="#000">40</text>
<text transform="translate(35.10 329.91) translate(-12.34 0) scale(0.9325 1)" font-size="11.9" font-weight="bold" fill="#000">60</text>
<text transform="translate(35.10 290.79) translate(-12.34 0) scale(0.9325 1)" font-size="11.9" font-weight="bold" fill="#000">80</text>
<text transform="translate(35.10 251.66) translate(-18.51 0) scale(0.9325 1)" font-size="11.9" font-weight="bold" fill="#000">100</text>
<text transform="translate(39.00 398.60) translate(-3.09 0) scale(0.9325 1)" font-size="11.9" font-weight="bold" fill="#000">0</text>
<text transform="translate(64.63 398.60) translate(-9.26 0) scale(0.9325 1)" font-size="11.9" font-weight="bold" fill="#000">100</text>
<text transform="translate(90.27 398.60) translate(-9.26 0) scale(0.9325 1)" font-size="11.9" font-weight="bold" fill="#000">200</text>
<text transform="translate(115.90 398.60) translate(-9.26 0) scale(0.9325 1)" font-size="11.9" font-weight="bold" fill="#000">300</text>
<text transform="translate(141.53 398.60) translate(-9.26 0) scale(0.9325 1)" font-size="11.9" font-weight="bold" fill="#000">400</text>
<text transform="translate(167.17 398.60) translate(-9.26 0) scale(0.9325 1)" font-size="11.9" font-weight="bold" fill="#000">500</text>
<text transform="translate(192.80 398.60) translate(-9.26 0) scale(0.9325 1)" font-size="11.9" font-weight="bold" fill="#000">600</text>
<text transform="translate(196.00 388.50) translate(0.00 0) scale(0.9326 1)" font-size="11.9" font-weight="bold" fill="#1010f0">-5</text>
<text transform="translate(196.00 362.42) translate(0.00 0) scale(0.9326 1)" font-size="11.9" font-weight="bold" fill="#1010f0">-4</text>
<text transform="translate(196.00 336.33) translate(0.00 0) scale(0.9326 1)" font-size="11.9" font-weight="bold" fill="#1010f0">-3</text>
<text transform="translate(196.00 310.25) translate(0.00 0) scale(0.9326 1)" font-size="11.9" font-weight="bold" fill="#1010f0">-2</text>
<text transform="translate(196.00 284.17) translate(0.00 0) scale(0.9326 1)" font-size="11.9" font-weight="bold" fill="#1010f0">-1</text>
<text transform="translate(196.00 258.08) translate(0.00 0) scale(0.9325 1)" font-size="11.9" font-weight="bold" fill="#1010f0">0</text>
<text transform="translate(196.00 232.00) translate(0.00 0) scale(0.9325 1)" font-size="11.9" font-weight="bold" fill="#1010f0">1</text>
<path d="M48.50,247.40 C50.23,247.40 55.60,247.40 58.90,247.40 C62.20,247.40 65.17,247.32 68.30,247.40 C71.43,247.48 74.92,247.62 77.70,247.90 C80.48,248.18 82.60,248.50 85.00,249.10 C87.40,249.70 89.73,250.52 92.10,251.50 C94.47,252.48 96.85,253.82 99.20,255.00 C101.55,256.18 104.25,257.52 106.20,258.60 C108.15,259.68 109.42,260.33 110.90,261.50 C112.38,262.67 113.92,264.12 115.10,265.60 C116.28,267.08 117.02,268.62 118.00,270.40 C118.98,272.18 120.02,274.25 121.00,276.30 C121.98,278.35 122.92,280.45 123.90,282.70 C124.88,284.95 125.73,286.62 126.90,289.80 C128.07,292.98 129.43,297.83 130.90,301.80 C132.37,305.77 134.12,309.67 135.70,313.60 C137.28,317.53 139.02,322.27 140.40,325.40 C141.78,328.53 142.78,330.17 144.00,332.40 C145.22,334.63 146.73,337.12 147.70,338.80 C148.67,340.48 149.10,340.90 149.80,342.50 C150.50,344.10 151.10,346.37 151.90,348.40 C152.70,350.43 153.62,352.93 154.60,354.70 C155.58,356.47 156.57,357.85 157.80,359.00 C159.03,360.15 160.42,360.98 162.00,361.60 C163.58,362.22 162.17,362.42 167.30,362.70 C172.43,362.98 188.55,363.20 192.80,363.30" stroke="#000" stroke-width="3" fill="none" stroke-linejoin="round" stroke-linecap="butt"/>
<path d="M47.9,247.4V260.5" stroke="#0000ff" stroke-width="2.6" fill="none" stroke-linecap="round"/>
<path d="M48.00,247.00 L48.26,247.45 L48.61,248.07 L49.02,248.81 L49.48,249.61 L49.95,250.42 L50.40,251.20 L50.78,251.87 L51.17,252.60 L51.57,253.35 L51.98,254.09 L52.39,254.78 L52.80,255.40 L53.20,255.90 L53.90,256.54 L54.59,256.95 L55.29,257.19 L56.00,257.30 L56.70,257.27 L57.39,257.09 L58.12,256.78 L58.90,256.40 L59.46,256.07 L60.03,255.66 L60.63,255.21 L61.26,254.76 L61.91,254.34 L62.60,254.00 L63.23,253.76 L63.89,253.54 L64.59,253.34 L65.29,253.18 L66.00,253.05 L66.71,252.95 L67.40,252.90 L68.19,252.90 L68.97,252.97 L69.76,253.09 L70.54,253.25 L71.32,253.42 L72.10,253.60 L72.77,253.76 L73.44,253.92 L74.11,254.10 L74.79,254.30 L75.46,254.51 L76.13,254.75 L76.80,255.00 L77.48,255.27 L78.18,255.55 L78.88,255.85 L79.57,256.18 L80.24,256.52 L80.89,256.90 L81.50,257.30 L82.06,257.75 L82.59,258.23 L83.08,258.75 L83.56,259.29 L84.03,259.83 L84.51,260.37 L85.00,260.90 L85.50,261.43 L86.01,261.97 L86.53,262.51 L87.03,263.05 L87.54,263.57 L88.03,264.05 L88.50,264.50 L89.14,265.03 L89.77,265.48 L90.37,265.89 L90.95,266.32 L91.50,266.80 L91.99,267.38 L92.44,268.01 L92.86,268.66 L93.31,269.27 L93.80,269.80 L94.50,270.33 L95.26,270.76 L96.04,271.14 L96.80,271.50 L97.53,271.89 L98.25,272.28 L98.97,272.58 L99.70,272.70 L100.45,272.56 L101.20,272.23 L101.95,271.83 L102.70,271.50 L103.44,271.22 L104.19,270.94 L104.91,270.74 L105.60,270.70 L106.46,270.88 L107.26,271.31 L108.00,272.10 L108.29,272.59 L108.56,273.17 L108.82,273.82 L109.07,274.53 L109.31,275.27 L109.55,276.04 L109.80,276.80 L110.02,277.47 L110.23,278.16 L110.44,278.87 L110.65,279.60 L110.86,280.35 L111.07,281.11 L111.28,281.90 L111.50,282.70 L111.67,283.34 L111.84,283.96 L112.00,284.59 L112.16,285.22 L112.32,285.87 L112.50,286.55 L112.68,287.27 L112.87,288.05 L113.08,288.89 L113.30,289.80 L113.44,290.38 L113.60,290.99 L113.76,291.63 L113.93,292.29 L114.11,292.98 L114.29,293.68 L114.47,294.40 L114.66,295.14 L114.84,295.88 L115.03,296.63 L115.21,297.38 L115.39,298.14 L115.57,298.89 L115.74,299.63 L115.90,300.37 L116.06,301.09 L116.20,301.80 L116.33,302.50 L116.46,303.20 L116.58,303.89 L116.70,304.59 L116.81,305.29 L116.92,305.98 L117.02,306.67 L117.13,307.37 L117.22,308.06 L117.32,308.75 L117.42,309.44 L117.51,310.14 L117.61,310.83 L117.70,311.52 L117.80,312.21 L117.90,312.91 L118.00,313.60 L118.10,314.30 L118.20,315.00 L118.30,315.70 L118.40,316.41 L118.50,317.11 L118.60,317.82 L118.70,318.53 L118.80,319.24 L118.90,319.94 L119.00,320.64 L119.10,321.34 L119.20,322.03 L119.30,322.72 L119.40,323.40 L119.50,324.08 L119.60,324.74 L119.70,325.40 L119.82,326.14 L119.93,326.90 L120.05,327.65 L120.17,328.41 L120.28,329.17 L120.40,329.92 L120.52,330.65 L120.63,331.38 L120.75,332.09 L120.87,332.78 L121.00,333.44 L121.12,334.08 L121.24,334.69 L121.37,335.26 L121.50,335.80 L121.78,336.88 L122.07,337.90 L122.37,338.82 L122.67,339.61 L122.98,340.24 L123.29,340.68 L123.60,340.90 L123.97,340.78 L124.34,340.29 L124.73,339.54 L125.11,338.69 L125.50,337.87 L125.90,337.20 L126.38,336.47 L126.87,335.67 L127.37,334.96 L127.88,334.48 L128.40,334.40 L128.79,334.62 L129.18,335.04 L129.58,335.62 L129.99,336.33 L130.40,337.11 L130.80,337.95 L131.20,338.80 L131.45,339.37 L131.69,340.00 L131.93,340.67 L132.17,341.38 L132.41,342.11 L132.64,342.84 L132.89,343.57 L133.13,344.29 L133.38,344.97 L133.64,345.61 L133.90,346.20 L134.28,346.99 L134.69,347.81 L135.11,348.61 L135.54,349.36 L135.96,350.02 L136.37,350.54 L136.75,350.88 L137.10,351.00 L137.46,350.85 L137.79,350.44 L138.10,349.81 L138.39,349.02 L138.67,348.12 L138.94,347.16 L139.20,346.20 L139.35,345.62 L139.50,344.98 L139.65,344.31 L139.79,343.60 L139.93,342.86 L140.07,342.11 L140.20,341.35 L140.33,340.59 L140.45,339.83 L140.57,339.10 L140.69,338.38 L140.80,337.70 L140.92,336.92 L141.04,336.15 L141.14,335.40 L141.24,334.66 L141.33,333.93 L141.42,333.20 L141.51,332.48 L141.60,331.76 L141.70,331.03 L141.80,330.30 L141.90,329.57 L142.01,328.83 L142.11,328.10 L142.21,327.36 L142.31,326.63 L142.42,325.90 L142.53,325.17 L142.65,324.45 L142.77,323.72 L142.90,323.00 L143.04,322.26 L143.18,321.49 L143.34,320.70 L143.49,319.92 L143.66,319.14 L143.82,318.38 L143.99,317.67 L144.16,317.01 L144.33,316.41 L144.50,315.90 L144.94,314.88 L145.39,314.16 L145.85,313.74 L146.30,313.60 L146.73,313.81 L147.15,314.34 L147.57,315.08 L148.00,315.90 L148.29,316.51 L148.59,317.23 L148.89,318.00 L149.20,318.77 L149.50,319.49 L149.80,320.10 L150.25,320.93 L150.71,321.69 L151.16,322.24 L151.60,322.40 L152.04,322.25 L152.49,321.83 L152.91,320.97 L153.30,319.50 L153.39,319.00 L153.47,318.42 L153.56,317.78 L153.64,317.08 L153.72,316.33 L153.79,315.55 L153.86,314.73 L153.94,313.90 L154.01,313.06 L154.08,312.22 L154.15,311.38 L154.22,310.57 L154.29,309.79 L154.36,309.04 L154.43,308.34 L154.50,307.70 L154.60,306.84 L154.70,306.04 L154.80,305.28 L154.89,304.56 L154.99,303.88 L155.09,303.21 L155.18,302.57 L155.28,301.93 L155.38,301.30 L155.49,300.65 L155.60,300.00 L155.73,299.30 L155.86,298.64 L156.00,298.01 L156.14,297.39 L156.28,296.77 L156.43,296.14 L156.57,295.47 L156.72,294.75 L156.86,293.96 L157.00,293.10 L157.09,292.51 L157.17,291.89 L157.26,291.23 L157.35,290.55 L157.43,289.85 L157.52,289.12 L157.61,288.39 L157.69,287.64 L157.78,286.88 L157.87,286.13 L157.96,285.38 L158.04,284.63 L158.13,283.89 L158.22,283.18 L158.31,282.48 L158.40,281.80 L158.50,281.04 L158.60,280.29 L158.70,279.54 L158.80,278.79 L158.90,278.05 L159.00,277.31 L159.11,276.59 L159.21,275.87 L159.32,275.17 L159.42,274.48 L159.54,273.81 L159.65,273.16 L159.77,272.52 L159.90,271.90 L160.08,271.06 L160.27,270.25 L160.46,269.47 L160.66,268.72 L160.87,267.99 L161.08,267.30 L161.30,266.63 L161.53,265.99 L161.76,265.38 L162.00,264.80 L162.35,264.04 L162.71,263.35 L163.08,262.73 L163.47,262.16 L163.88,261.62 L164.32,261.11 L164.80,260.60 L165.30,260.10 L165.81,259.60 L166.35,259.05 L166.92,258.46 L167.55,258.20 L168.24,258.04 L169.00,257.68 L169.59,257.25 L170.23,257.16 L170.92,257.19 L171.63,257.14 L172.37,257.10 L173.12,257.00 L173.88,256.87 L174.63,256.67 L175.38,256.64 L176.10,256.62 L176.80,256.54 L177.49,256.13 L178.16,255.88 L178.84,255.72 L179.52,255.67 L180.21,255.67 L180.92,255.55 L181.65,255.58 L182.40,255.38 L183.20,255.52 L183.86,255.54 L184.59,255.54 L185.37,255.31 L186.18,255.47 L187.00,255.50 L187.83,255.62 L188.65,255.51 L189.44,255.57 L190.18,255.45 L190.86,255.47 L191.47,255.53 L191.99,255.58 L192.40,255.60" stroke="#0000ff" stroke-width="3" fill="none" stroke-linejoin="round" stroke-linecap="butt"/>
<text transform="translate(130.60 244.30) translate(0.00 0) scale(0.9533 1)" font-size="14.9" font-weight="bold" fill="#000">PEPO-30</text>
<text transform="translate(10.60 329.30) rotate(-90) translate(0.00 0) scale(1.0847 1)" font-size="14.5" font-weight="bold" fill="#000">TG(%)</text>
<text transform="translate(220.70 346.00) rotate(-90) translate(0.00 0) scale(1.0842 1)" font-size="14.5" font-weight="bold" fill="#1010f0">dTG(%/min)</text>
<g transform="translate(58.80 419.70) scale(0.9811 1) translate(-0.16 0)"><text transform="translate(0.00 0.00) translate(0.00 0) scale(1.0000 1)" font-size="14.5" font-weight="bold" fill="#000">Temperature (</text><text transform="translate(96.69 -6.30) translate(0.00 0) scale(1.0000 1)" font-size="9.5" font-weight="bold" fill="#000">o</text><text transform="translate(102.50 0.00) translate(0.00 0) scale(1.0000 1)" font-size="14.5" font-weight="bold" fill="#000">C)</text></g>
<text transform="translate(61.30 303.90) rotate(-90) translate(-0.61 0) scale(1.0087 1)" font-size="11.9" fill="#111">63.1 °C</text>
<text transform="translate(119.10 383.00) rotate(-90) translate(-0.49 0) scale(1.0962 1)" font-size="11.62" fill="#111">324.2°C</text>
<text transform="translate(150.90 384.90) rotate(-90) translate(-0.44 0) scale(0.9919 1)" font-size="11.62" fill="#111">384.5 °C</text>
<text transform="translate(165.90 357.90) rotate(-90) translate(-0.30 0) scale(1.1748 1)" font-size="11.06" fill="#111">444.7°C</text></g>
<g><path d="M266.4,226.7V384.1" stroke="#555555" stroke-width="1.3" fill="none"/>
<path d="M266.4,227.5H420.5" stroke="#505050" stroke-width="1.2" fill="none"/>
<path d="M265.6,384.1H420.5" stroke="#444" stroke-width="1.2" fill="none"/>
<path d="M266.4,384.1h-1.6 M266.4,364.53h-2.2 M266.4,344.95h-1.6 M266.4,325.38h-2.2 M266.4,305.8h-1.6 M266.4,286.23h-2.2 M266.4,266.65h-1.6 M266.4,247.07h-2.2 M266.4,227.5h-1.6 M266.4,384.1v2.2 M279.24,384.1v1.6 M292.08,384.1v2.2 M304.92,384.1v1.6 M317.77,384.1v2.2 M330.61,384.1v1.6 M343.45,384.1v2.2 M356.29,384.1v1.6 M369.13,384.1v2.2 M381.98,384.1v1.6 M394.82,384.1v2.2 M407.66,384.1v1.6 M420.5,384.1v2.2 M279.24,227.5v1.6 M292.08,227.5v2.2 M304.92,227.5v1.6 M317.77,227.5v2.2 M330.61,227.5v1.6 M343.45,227.5v2.2 M356.29,227.5v1.6 M369.13,227.5v2.2 M381.98,227.5v1.6 M394.82,227.5v2.2 M407.66,227.5v1.6" stroke="#555" stroke-width="1" fill="none"/>
<path d="M420.5,226.9V384.1" stroke="#5050ff" stroke-width="1.2" fill="none"/>
<path d="M420.5,384.1h-2 M420.9,374.31h-1.2 M420.5,364.53h-2 M420.9,354.74h-1.2 M420.5,344.95h-2 M420.9,335.16h-1.2 M420.5,325.38h-2 M420.9,315.59h-1.2 M420.5,305.8h-2 M420.9,296.01h-1.2 M420.5,286.23h-2 M420.9,276.44h-1.2 M420.5,266.65h-2 M420.9,256.86h-1.2 M420.5,247.07h-2 M420.9,237.29h-1.2 M420.5,227.5h-2" stroke="#3030ff" stroke-width="1.1" fill="none"/>
<text transform="translate(262.50 368.03) translate(-12.34 0) scale(0.9325 1)" font-size="11.9" font-weight="bold" fill="#000">40</text>
<text transform="translate(262.50 328.88) translate(-12.34 0) scale(0.9325 1)" font-size="11.9" font-weight="bold" fill="#000">60</text>
<text transform="translate(262.50 289.73) translate(-12.34 0) scale(0.9325 1)" font-size="11.9" font-weight="bold" fill="#000">80</text>
<text transform="translate(262.50 250.57) translate(-18.51 0) scale(0.9325 1)" font-size="11.9" font-weight="bold" fill="#000">100</text>
<text transform="translate(266.40 397.60) translate(-3.09 0) scale(0.9325 1)" font-size="11.9" font-weight="bold" fill="#000">0</text>
<text transform="translate(292.08 397.60) translate(-9.26 0) scale(0.9325 1)" font-size="11.9" font-weight="bold" fill="#000">100</text>
<text transform="translate(317.77 397.60) translate(-9.26 0) scale(0.9325 1)" font-size="11.9" font-weight="bold" fill="#000">200</text>
<text transform="translate(343.45 397.60) translate(-9.26 0) scale(0.9325 1)" font-size="11.9" font-weight="bold" fill="#000">300</text>
<text transform="translate(369.13 397.60) translate(-9.26 0) scale(0.9325 1)" font-size="11.9" font-weight="bold" fill="#000">400</text>
<text transform="translate(394.82 397.60) translate(-9.26 0) scale(0.9325 1)" font-size="11.9" font-weight="bold" fill="#000">500</text>
<text transform="translate(420.50 397.60) translate(-9.26 0) scale(0.9325 1)" font-size="11.9" font-weight="bold" fill="#000">600</text>
<text transform="translate(423.70 387.50) translate(0.00 0) scale(0.9326 1)" font-size="11.9" font-weight="bold" fill="#1010f0">-7</text>
<text transform="translate(423.70 367.93) translate(0.00 0) scale(0.9326 1)" font-size="11.9" font-weight="bold" fill="#1010f0">-6</text>
<text transform="translate(423.70 348.35) translate(0.00 0) scale(0.9326 1)" font-size="11.9" font-weight="bold" fill="#1010f0">-5</text>
<text transform="translate(423.70 328.77) translate(0.00 0) scale(0.9326 1)" font-size="11.9" font-weight="bold" fill="#1010f0">-4</text>
<text transform="translate(423.70 309.20) translate(0.00 0) scale(0.9326 1)" font-size="11.9" font-weight="bold" fill="#1010f0">-3</text>
<text transform="translate(423.70 289.62) translate(0.00 0) scale(0.9326 1)" font-size="11.9" font-weight="bold" fill="#1010f0">-2</text>
<text transform="translate(423.70 270.05) translate(0.00 0) scale(0.9326 1)" font-size="11.9" font-weight="bold" fill="#1010f0">-1</text>
<text transform="translate(423.70 250.47) translate(0.00 0) scale(0.9325 1)" font-size="11.9" font-weight="bold" fill="#1010f0">0</text>
<text transform="translate(423.70 230.90) translate(0.00 0) scale(0.9325 1)" font-size="11.9" font-weight="bold" fill="#1010f0">1</text>
<path d="M275.00,246.20 C276.27,246.15 278.43,246.03 282.60,245.90 C286.77,245.77 294.60,245.55 300.00,245.40 C305.40,245.25 310.53,245.00 315.00,245.00 C319.47,245.00 323.47,245.20 326.80,245.40 C330.13,245.60 332.83,245.87 335.00,246.20 C337.17,246.53 338.42,246.72 339.80,247.40 C341.18,248.08 342.28,249.03 343.30,250.30 C344.32,251.57 345.15,253.23 345.90,255.00 C346.65,256.77 347.25,258.73 347.80,260.90 C348.35,263.07 348.77,265.63 349.20,268.00 C349.63,270.37 349.92,272.93 350.40,275.10 C350.88,277.27 351.33,279.40 352.10,281.00 C352.87,282.60 353.92,283.10 355.00,284.70 C356.08,286.30 357.42,288.43 358.60,290.60 C359.78,292.77 360.92,295.15 362.10,297.70 C363.28,300.25 364.52,303.25 365.70,305.90 C366.88,308.55 368.03,311.23 369.20,313.60 C370.37,315.97 371.52,317.83 372.70,320.10 C373.88,322.37 375.32,325.20 376.30,327.20 C377.28,329.20 377.72,329.92 378.60,332.10 C379.48,334.28 380.62,337.55 381.60,340.30 C382.58,343.05 383.52,346.43 384.50,348.60 C385.48,350.77 386.32,352.22 387.50,353.30 C388.68,354.38 390.35,354.70 391.60,355.10 C392.85,355.50 390.22,355.58 395.00,355.70 C399.78,355.82 416.08,355.78 420.30,355.80" stroke="#000" stroke-width="3" fill="none" stroke-linejoin="round" stroke-linecap="butt"/>
<path d="M275.2,242.1V248.8" stroke="#0000ff" stroke-width="2.6" fill="none" stroke-linecap="round"/>
<path d="M275.30,245.00 L275.82,244.97 L276.58,244.96 L277.50,245.06 L278.12,245.24 L278.80,245.62 L279.54,246.13 L280.31,246.69 L281.10,246.86 L281.79,247.08 L282.51,247.20 L283.25,247.15 L284.00,247.42 L284.76,247.60 L285.50,247.98 L286.20,247.55 L286.86,247.07 L287.52,246.66 L288.22,246.61 L289.00,246.67 L289.90,246.57 L290.51,246.57 L291.17,246.27 L291.88,246.15 L292.61,245.95 L293.37,245.76 L294.14,245.80 L294.92,245.66 L295.69,245.81 L296.46,245.34 L297.20,245.08 L297.93,244.81 L298.66,244.88 L299.39,245.11 L300.12,245.24 L300.85,245.25 L301.58,245.08 L302.31,245.03 L303.04,245.35 L303.77,245.44 L304.50,245.60 L305.23,245.52 L305.98,245.46 L306.72,245.47 L307.47,245.64 L308.22,245.61 L308.96,245.59 L309.69,245.42 L310.41,245.64 L311.11,245.80 L311.80,245.84 L312.64,245.78 L313.48,245.86 L314.30,245.99 L315.10,246.37 L315.88,246.48 L316.62,246.48 L317.33,246.41 L318.00,246.08 L318.77,246.26 L319.41,246.34 L319.99,246.68 L320.59,246.62 L321.27,246.79 L322.10,246.99 L322.70,247.48 L323.37,247.43 L324.09,247.40 L324.84,247.34 L325.61,247.96 L326.39,248.38 L327.15,248.18 L327.89,247.71 L328.57,247.83 L329.20,248.19 L330.01,248.71 L330.77,249.09 L331.48,249.47 L332.14,249.77 L332.76,250.12 L333.34,250.49 L333.90,250.90 L334.49,251.41 L335.02,251.94 L335.49,252.51 L335.94,253.13 L336.37,253.79 L336.80,254.50 L337.13,255.07 L337.45,255.67 L337.77,256.29 L338.07,256.94 L338.37,257.61 L338.66,258.32 L338.94,259.04 L339.20,259.80 L339.40,260.43 L339.59,261.09 L339.77,261.77 L339.94,262.47 L340.11,263.19 L340.27,263.91 L340.43,264.64 L340.58,265.37 L340.74,266.09 L340.90,266.80 L341.06,267.51 L341.22,268.23 L341.38,268.96 L341.54,269.69 L341.70,270.42 L341.85,271.14 L342.00,271.86 L342.14,272.56 L342.28,273.24 L342.40,273.90 L342.54,274.68 L342.66,275.41 L342.78,276.10 L342.88,276.78 L342.98,277.47 L343.08,278.19 L343.19,278.96 L343.30,279.80 L343.39,280.45 L343.47,281.13 L343.56,281.83 L343.64,282.55 L343.73,283.29 L343.82,284.04 L343.91,284.81 L344.00,285.59 L344.10,286.39 L344.20,287.19 L344.30,288.00 L344.39,288.68 L344.48,289.33 L344.58,289.97 L344.68,290.61 L344.78,291.26 L344.89,291.92 L344.99,292.60 L345.09,293.32 L345.20,294.08 L345.30,294.88 L345.40,295.75 L345.50,296.69 L345.60,297.70 L345.65,298.26 L345.70,298.85 L345.75,299.47 L345.80,300.11 L345.86,300.78 L345.91,301.46 L345.96,302.16 L346.01,302.88 L346.06,303.61 L346.12,304.35 L346.17,305.10 L346.22,305.86 L346.27,306.63 L346.32,307.39 L346.37,308.16 L346.42,308.92 L346.46,309.69 L346.51,310.44 L346.56,311.19 L346.60,311.93 L346.64,312.66 L346.68,313.37 L346.72,314.07 L346.76,314.74 L346.80,315.40 L346.84,316.20 L346.88,316.97 L346.92,317.72 L346.96,318.45 L346.99,319.17 L347.02,319.88 L347.05,320.58 L347.08,321.27 L347.11,321.96 L347.14,322.64 L347.16,323.33 L347.19,324.02 L347.21,324.72 L347.24,325.42 L347.26,326.14 L347.29,326.87 L347.32,327.62 L347.34,328.39 L347.37,329.18 L347.40,330.00 L347.42,330.64 L347.44,331.29 L347.47,331.95 L347.49,332.62 L347.51,333.29 L347.53,333.97 L347.55,334.65 L347.56,335.34 L347.58,336.04 L347.60,336.74 L347.62,337.45 L347.64,338.17 L347.66,338.89 L347.68,339.61 L347.70,340.34 L347.73,341.07 L347.75,341.81 L347.77,342.55 L347.80,343.30 L347.82,344.05 L347.85,344.80 L347.87,345.56 L347.90,346.31 L347.93,347.07 L347.97,347.84 L348.00,348.60 L348.03,349.29 L348.06,350.03 L348.10,350.81 L348.13,351.62 L348.17,352.47 L348.20,353.35 L348.24,354.25 L348.28,355.17 L348.32,356.10 L348.36,357.04 L348.40,357.99 L348.44,358.93 L348.48,359.86 L348.53,360.78 L348.57,361.69 L348.61,362.57 L348.66,363.42 L348.70,364.25 L348.74,365.03 L348.79,365.78 L348.83,366.47 L348.87,367.12 L348.91,367.71 L348.96,368.23 L349.00,368.69 L349.04,369.08 L349.08,369.39 L349.12,369.61 L349.16,369.75 L349.20,369.80 L349.24,369.75 L349.28,369.62 L349.31,369.40 L349.35,369.10 L349.39,368.73 L349.42,368.28 L349.46,367.77 L349.50,367.20 L349.53,366.57 L349.57,365.89 L349.61,365.16 L349.64,364.39 L349.68,363.58 L349.71,362.74 L349.75,361.88 L349.79,360.98 L349.82,360.07 L349.86,359.14 L349.89,358.21 L349.93,357.27 L349.97,356.32 L350.00,355.39 L350.04,354.46 L350.08,353.54 L350.11,352.65 L350.15,351.77 L350.19,350.93 L350.22,350.11 L350.26,349.34 L350.30,348.60 L350.34,347.89 L350.38,347.18 L350.42,346.46 L350.45,345.75 L350.49,345.04 L350.53,344.33 L350.57,343.62 L350.61,342.92 L350.65,342.21 L350.69,341.50 L350.73,340.79 L350.77,340.08 L350.81,339.36 L350.85,338.65 L350.89,337.94 L350.93,337.22 L350.97,336.51 L351.02,335.79 L351.06,335.07 L351.10,334.35 L351.14,333.62 L351.18,332.90 L351.22,332.17 L351.26,331.44 L351.30,330.71 L351.34,329.97 L351.38,329.23 L351.42,328.49 L351.46,327.75 L351.50,327.00 L351.54,326.31 L351.57,325.61 L351.61,324.90 L351.65,324.17 L351.68,323.44 L351.72,322.70 L351.75,321.95 L351.79,321.19 L351.83,320.43 L351.86,319.67 L351.90,318.90 L351.94,318.14 L351.97,317.37 L352.01,316.60 L352.05,315.83 L352.08,315.07 L352.12,314.31 L352.15,313.55 L352.19,312.80 L352.23,312.06 L352.26,311.33 L352.30,310.61 L352.34,309.89 L352.37,309.19 L352.41,308.51 L352.45,307.83 L352.48,307.17 L352.52,306.53 L352.55,305.91 L352.59,305.30 L352.63,304.71 L352.66,304.14 L352.70,303.60 L352.77,302.53 L352.85,301.53 L352.92,300.59 L352.99,299.70 L353.06,298.86 L353.13,298.07 L353.20,297.32 L353.27,296.61 L353.34,295.93 L353.41,295.28 L353.49,294.66 L353.56,294.06 L353.64,293.48 L353.73,292.91 L353.81,292.35 L353.90,291.80 L354.08,290.72 L354.27,289.69 L354.47,288.74 L354.68,287.89 L354.89,287.16 L355.11,286.58 L355.35,286.15 L355.60,285.90 L355.96,285.90 L356.35,286.24 L356.76,286.84 L357.17,287.62 L357.59,288.50 L358.00,289.40 L358.24,289.97 L358.47,290.60 L358.70,291.28 L358.94,292.01 L359.17,292.76 L359.40,293.53 L359.64,294.30 L359.89,295.06 L360.14,295.80 L360.40,296.50 L360.67,297.23 L360.95,298.03 L361.23,298.87 L361.52,299.71 L361.81,300.52 L362.11,301.28 L362.41,301.94 L362.71,302.46 L363.00,302.83 L363.30,303.00 L363.68,302.91 L364.06,302.52 L364.45,301.90 L364.84,301.12 L365.22,300.25 L365.60,299.34 L365.96,298.47 L366.30,297.70 L366.59,297.05 L366.86,296.37 L367.11,295.67 L367.36,294.96 L367.61,294.26 L367.85,293.57 L368.10,292.93 L368.34,292.33 L368.60,291.80 L369.08,290.90 L369.56,290.05 L370.04,289.34 L370.52,288.89 L371.00,288.80 L371.39,289.02 L371.77,289.47 L372.15,290.12 L372.53,290.95 L372.91,291.92 L373.30,293.00 L373.48,293.55 L373.66,294.15 L373.85,294.79 L374.03,295.47 L374.22,296.18 L374.41,296.92 L374.59,297.68 L374.78,298.46 L374.97,299.25 L375.15,300.04 L375.34,300.84 L375.52,301.62 L375.70,302.40 L375.86,303.07 L376.01,303.75 L376.16,304.44 L376.32,305.14 L376.47,305.84 L376.62,306.55 L376.77,307.27 L376.93,307.98 L377.08,308.70 L377.23,309.42 L377.38,310.14 L377.54,310.86 L377.69,311.58 L377.84,312.29 L378.00,313.00 L378.16,313.72 L378.32,314.48 L378.49,315.26 L378.66,316.06 L378.84,316.86 L379.01,317.66 L379.18,318.46 L379.35,319.24 L379.52,319.99 L379.69,320.72 L379.84,321.40 L380.00,322.04 L380.14,322.63 L380.27,323.15 L380.40,323.60 L380.87,325.16 L381.21,325.74 L381.60,325.40 L381.77,325.06 L381.95,324.57 L382.15,323.96 L382.35,323.24 L382.55,322.44 L382.75,321.59 L382.95,320.70 L383.13,319.80 L383.30,318.90 L383.41,318.28 L383.52,317.64 L383.62,316.98 L383.72,316.30 L383.82,315.61 L383.91,314.89 L384.00,314.17 L384.09,313.42 L384.18,312.66 L384.26,311.89 L384.34,311.11 L384.42,310.31 L384.50,309.50 L384.56,308.83 L384.62,308.15 L384.68,307.45 L384.73,306.74 L384.79,306.02 L384.84,305.29 L384.89,304.55 L384.94,303.81 L384.99,303.05 L385.03,302.30 L385.08,301.53 L385.12,300.77 L385.17,300.00 L385.21,299.23 L385.26,298.47 L385.30,297.70 L385.34,297.03 L385.37,296.37 L385.41,295.73 L385.44,295.09 L385.47,294.45 L385.50,293.82 L385.53,293.19 L385.56,292.55 L385.59,291.89 L385.62,291.23 L385.65,290.55 L385.69,289.84 L385.72,289.12 L385.75,288.36 L385.78,287.58 L385.82,286.76 L385.86,285.90 L385.90,285.00 L385.93,284.41 L385.95,283.79 L385.98,283.14 L386.01,282.46 L386.03,281.76 L386.06,281.04 L386.09,280.30 L386.12,279.54 L386.15,278.77 L386.18,277.99 L386.21,277.20 L386.24,276.40 L386.27,275.60 L386.30,274.80 L386.33,274.00 L386.36,273.21 L386.39,272.42 L386.42,271.65 L386.46,270.88 L386.49,270.13 L386.52,269.40 L386.56,268.69 L386.59,268.00 L386.62,267.34 L386.66,266.70 L386.69,266.10 L386.73,265.53 L386.76,265.00 L386.80,264.50 L386.91,263.24 L387.01,262.18 L387.12,261.31 L387.23,260.58 L387.35,259.96 L387.47,259.42 L387.59,258.93 L387.72,258.45 L387.86,257.95 L388.00,257.40 L388.21,256.59 L388.41,255.83 L388.63,255.13 L388.85,254.47 L389.10,253.85 L389.38,253.26 L389.70,252.70 L390.09,252.09 L390.50,251.54 L390.94,251.03 L391.44,250.56 L392.02,250.12 L392.70,249.70 L393.27,249.39 L393.89,249.10 L394.55,248.83 L395.25,248.54 L396.00,248.28 L396.81,248.16 L397.68,247.78 L398.60,247.63 L399.20,247.36 L399.83,247.31 L400.48,247.02 L401.16,247.09 L401.85,247.05 L402.57,247.27 L403.30,247.17 L404.05,246.93 L404.82,246.83 L405.60,246.74 L406.39,247.06 L407.19,247.11 L408.00,247.13 L408.69,246.80 L409.44,246.56 L410.23,246.43 L411.06,246.44 L411.91,246.58 L412.77,246.80 L413.63,246.94 L414.49,247.22 L415.33,247.05 L416.13,246.97 L416.90,247.09 L417.62,246.89 L418.28,246.82 L418.87,246.67 L419.38,246.79 L419.80,246.80" stroke="#0000ff" stroke-width="3" fill="none" stroke-linejoin="round" stroke-linecap="butt"/>
<text transform="translate(356.10 243.40) translate(0.00 0) scale(1.0276 1)" font-size="13.8" font-weight="bold" fill="#000">PEPO-50</text>
<text transform="translate(242.30 323.50) rotate(-90) translate(0.00 0) scale(1.1076 1)" font-size="14.2" font-weight="bold" fill="#000">TG(%)</text>
<text transform="translate(450.50 340.70) rotate(-90) translate(0.00 0) scale(1.1140 1)" font-size="14" font-weight="bold" fill="#1010f0">dTG(%/min)</text>
<g transform="translate(292.30 420.20) scale(0.9777 1) translate(-0.16 0)"><text transform="translate(0.00 0.00) translate(0.00 0) scale(1.0000 1)" font-size="14.5" font-weight="bold" fill="#000">Temperature (</text><text transform="translate(96.69 -6.30) translate(0.00 0) scale(1.0000 1)" font-size="9.5" font-weight="bold" fill="#000">o</text><text transform="translate(102.50 0.00) translate(0.00 0) scale(1.0000 1)" font-size="14.5" font-weight="bold" fill="#000">C)</text></g>
<text transform="translate(286.90 293.30) rotate(-90) translate(-0.61 0) scale(1.0826 1)" font-size="11.06" fill="#111">65.1 °C</text>
<text transform="translate(344.90 380.60) rotate(-90) translate(-0.49 0) scale(1.0697 1)" font-size="12.04" fill="#111">322.2°C</text>
<text transform="translate(366.80 354.00) rotate(-90) translate(-0.49 0) scale(1.0382 1)" font-size="12.46" fill="#111">377.9°C</text>
<text transform="translate(393.80 352.60) rotate(-90) translate(-0.28 0) scale(1.0302 1)" font-size="12.04" fill="#111">448.4°C</text></g>
</svg>
</body></html>
